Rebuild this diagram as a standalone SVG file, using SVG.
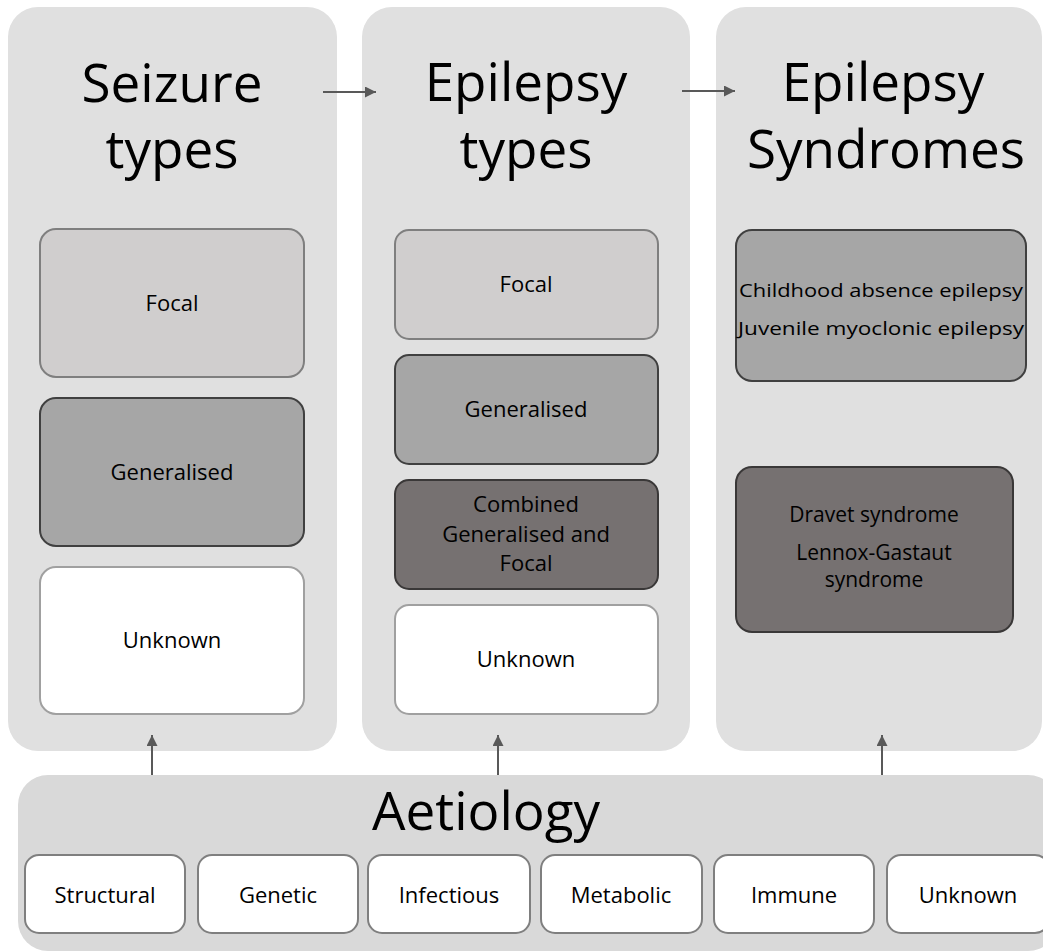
<svg xmlns="http://www.w3.org/2000/svg" width="1043" height="951" viewBox="0 0 1043 951">
<style>
  text { font-family: "Open Sans", "Noto Sans", "Liberation Sans", sans-serif; fill: #000; text-anchor: middle; }
  .title { font-size: 53px; }
  .lbl { font-size: 22px; }
  .sm { font-size: 19px; }
  .md { font-size: 21px; }
  .panel { fill: #e0e0e0; }
  .apanel { fill: #d9d9d9; }
  .focal { fill: #d0cece; stroke: #7f7f7f; stroke-width: 2; }
  .gen { fill: #a6a6a6; stroke: #404040; stroke-width: 2; }
  .comb { fill: #767171; stroke: #3a3838; stroke-width: 2; }
  .unk { fill: #ffffff; stroke: #a0a0a0; stroke-width: 2; }
  .ae { fill: #ffffff; stroke: #7f7f7f; stroke-width: 2; }
  .conn { stroke: #595959; stroke-width: 2; fill: none; marker-end: url(#ah); }
</style>
<defs>
  <marker id="ah" viewBox="0 0 10 10" refX="10" refY="5" markerWidth="6.5" markerHeight="5.5" markerUnits="strokeWidth" orient="auto">
    <path d="M0,0 L10,5 L0,10 z" fill="#595959"/>
  </marker>
</defs>
<rect width="1043" height="951" fill="#ffffff"/>

<g id="panel-seizure">
  <rect class="panel" x="8" y="7" width="329" height="744" rx="30"/>
  <text class="title" x="172" y="102">Seizure<tspan x="172" y="168">types</tspan></text>
</g>
<g id="panel-epilepsy">
  <rect class="panel" x="362" y="7" width="328" height="744" rx="30"/>
  <text class="title" x="526" y="101">Epilepsy<tspan x="526" y="168">types</tspan></text>
</g>
<g id="panel-syndromes">
  <rect class="panel" x="716" y="7" width="326" height="744" rx="30"/>
  <text class="title" x="883" y="101">Epilepsy<tspan x="886" y="168">Syndromes</tspan></text>
</g>
<g id="panel-aetiology">
  <rect class="apanel" x="18" y="775" width="1040" height="176" rx="30"/>
  <text class="title" x="486" y="830">Aetiology</text>
</g>

<g id="st-focal">
  <rect class="focal" x="40" y="229" width="264" height="148" rx="16"/>
  <text class="lbl" x="172" y="311">Focal</text>
</g>
<g id="st-generalised">
  <rect class="gen" x="40" y="398" width="264" height="148" rx="16"/>
  <text class="lbl" x="172" y="480">Generalised</text>
</g>
<g id="st-unknown">
  <rect class="unk" x="40" y="567" width="264" height="147" rx="16"/>
  <text class="lbl" x="172" y="648">Unknown</text>
</g>

<g id="et-focal">
  <rect class="focal" x="395" y="230" width="263" height="109" rx="14"/>
  <text class="lbl" x="526" y="292">Focal</text>
</g>
<g id="et-generalised">
  <rect class="gen" x="395" y="355" width="263" height="109" rx="14"/>
  <text class="lbl" x="526" y="417">Generalised</text>
</g>
<g id="et-combined">
  <rect class="comb" x="395" y="480" width="263" height="109" rx="14"/>
  <text class="lbl" x="526" y="512">Combined<tspan x="526" y="542">Generalised and</tspan><tspan x="526" y="571">Focal</tspan></text>
</g>
<g id="et-unknown">
  <rect class="unk" x="395" y="605" width="263" height="109" rx="14"/>
  <text class="lbl" x="526" y="667">Unknown</text>
</g>

<g id="syn-generalised">
  <rect class="gen" x="736" y="230" width="290" height="151" rx="16"/>
  <text class="sm" x="881" y="297" textLength="284" lengthAdjust="spacingAndGlyphs">Childhood absence epilepsy</text>
  <text class="sm" x="881" y="335" textLength="286" lengthAdjust="spacingAndGlyphs">Juvenile myoclonic epilepsy</text>
</g>
<g id="syn-combined">
  <rect class="comb" x="736" y="467" width="277" height="165" rx="16"/>
  <text class="md" x="874" y="522">Dravet syndrome</text>
  <text class="md" x="874" y="560">Lennox-Gastaut<tspan x="874" y="587">syndrome</tspan></text>
</g>

<g id="ae-structural">
  <rect class="ae" x="25" y="855" width="160" height="78" rx="14"/>
  <text class="lbl" x="105" y="903">Structural</text>
</g>
<g id="ae-genetic">
  <rect class="ae" x="198" y="855" width="160" height="78" rx="14"/>
  <text class="lbl" x="278" y="903">Genetic</text>
</g>
<g id="ae-infectious">
  <rect class="ae" x="368" y="855" width="162" height="78" rx="14"/>
  <text class="lbl" x="449" y="903">Infectious</text>
</g>
<g id="ae-metabolic">
  <rect class="ae" x="541" y="855" width="161" height="78" rx="14"/>
  <text class="lbl" x="621" y="903">Metabolic</text>
</g>
<g id="ae-immune">
  <rect class="ae" x="714" y="855" width="160" height="78" rx="14"/>
  <text class="lbl" x="794" y="903">Immune</text>
</g>
<g id="ae-unknown">
  <rect class="ae" x="887" y="855" width="162" height="78" rx="14"/>
  <text class="lbl" x="968" y="903">Unknown</text>
</g>

<g id="connectors">
  <line class="conn" x1="323" y1="92" x2="376" y2="92"/>
  <line class="conn" x1="682" y1="91" x2="735" y2="91"/>
  <line class="conn" x1="152" y1="775" x2="152" y2="735"/>
  <line class="conn" x1="498" y1="775" x2="498" y2="735"/>
  <line class="conn" x1="882" y1="775" x2="882" y2="735"/>
</g>
</svg>
